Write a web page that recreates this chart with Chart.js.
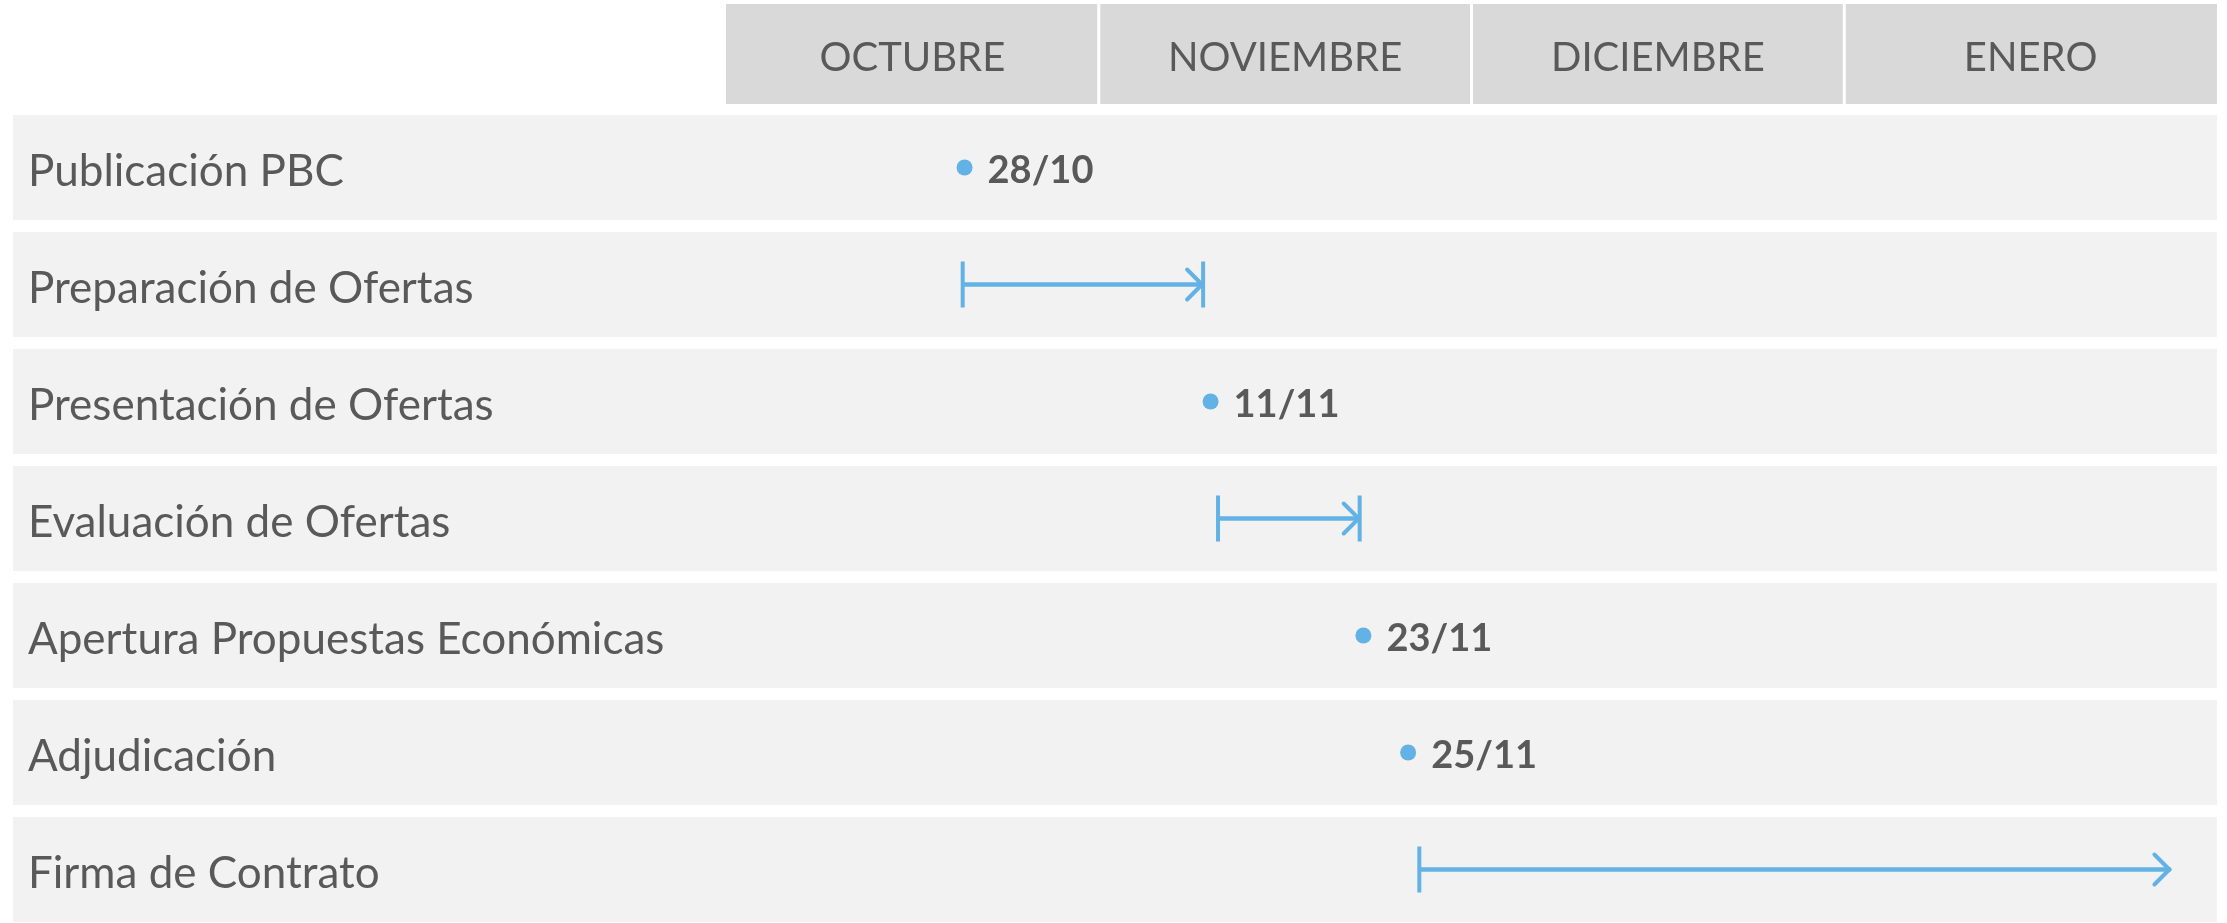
<!DOCTYPE html>
<html>
<head>
<meta charset="utf-8">
<title>Calendario de la licitación</title>
<script src="https://cdn.jsdelivr.net/npm/chart.js@4.4.0/dist/chart.umd.min.js"></script>
<style>
    html, body { margin: 0; padding: 0; background: #ffffff; overflow: hidden; }
    #grafico { display: block; }
</style>
</head>
<body>
<canvas id="grafico" width="2227" height="928"></canvas>
<script>
// MESES DE LA CABECERA (EJE X EN MESES: 0 = INICIO DE OCTUBRE)
var meses = ['OCTUBRE', 'NOVIEMBRE', 'DICIEMBRE', 'ENERO'];

// FASES (UNA FILA CADA UNA)
var fases = ['Publicación PBC', 'Preparación de Ofertas', 'Presentación de Ofertas',
             'Evaluación de Ofertas', 'Apertura Propuestas Económicas', 'Adjudicación',
             'Firma de Contrato'];

// HITOS PUNTUALES
var hitosFase = ['Publicación PBC', 'Presentación de Ofertas', 'Apertura Propuestas Económicas', 'Adjudicación'];
var hitosPosicion = [0.64, 1.30, 1.71, 1.83];
var hitosFecha = ['28/10', '11/11', '23/11', '25/11'];

// PERIODOS (INICIO Y FIN EN MESES)
var periodosFase = ['Preparación de Ofertas', 'Evaluación de Ofertas', 'Firma de Contrato'];
var periodosInicio = [0.635, 1.32, 1.86];
var periodosFin = [1.28, 1.70, 3.875];
var periodosAbiertos = [false, false, true];

var azul = '#63b2e5';
var gris = '#595959';

function datosHitos() {
    var puntos = [];
    for (var i = 0; i < hitosFase.length; i++) {
        puntos.push({ x: hitosPosicion[i], y: hitosFase[i] });
    }
    return puntos;
}

function datosPeriodos() {
    var barras = [];
    for (var i = 0; i < fases.length; i++) {
        var k = periodosFase.indexOf(fases[i]);
        barras.push(k < 0 ? null : [periodosInicio[k], periodosFin[k]]);
    }
    return barras;
}

// FONDO DE FILAS Y CABECERA DE MESES
var fondo = {
    id: 'fondo',
    beforeDraw: function (chart) {
        var ctx = chart.ctx;
        var ejeX = chart.scales.x;
        var ejeY = chart.scales.y;
        var area = chart.chartArea;
        var paso = ejeY.getPixelForValue(1) - ejeY.getPixelForValue(0);
        var alto = paso - 12;

        ctx.save();
        ctx.fillStyle = '#f2f2f2';
        for (var i = 0; i < fases.length; i++) {
            var yc = ejeY.getPixelForValue(i);
            ctx.fillRect(13, yc - alto / 2, area.right - 13, alto);
        }

        for (var m = 0; m < meses.length; m++) {
            var x0 = ejeX.getPixelForValue(m);
            var x1 = ejeX.getPixelForValue(m + 1);
            var izq = m > 0 ? 1.5 : 0;
            var der = m < meses.length - 1 ? 1.5 : 0;
            ctx.fillStyle = '#d9d9d9';
            ctx.fillRect(x0 + izq, 4, x1 - x0 - izq - der, 100);
            ctx.fillStyle = gris;
            ctx.font = '40px Lato';
            ctx.textAlign = 'center';
            ctx.textBaseline = 'middle';
            ctx.fillText(meses[m], (x0 + x1) / 2, 58);
        }
        ctx.restore();
    }
};

// TOPES, PUNTAS DE FLECHA Y FECHAS DE LOS HITOS
var marcas = {
    id: 'marcas',
    afterDatasetsDraw: function (chart) {
        var ctx = chart.ctx;
        var barras = chart.getDatasetMeta(0).data;
        var puntos = chart.getDatasetMeta(1).data;
        var valores = chart.data.datasets[0].data;

        ctx.save();
        ctx.strokeStyle = azul;
        ctx.lineWidth = 4;
        for (var i = 0; i < barras.length; i++) {
            if (valores[i] === null) continue;
            var k = periodosFase.indexOf(fases[i]);
            var b = barras[i];
            ctx.lineCap = 'butt';
            ctx.beginPath();
            ctx.moveTo(b.base, b.y - 23);
            ctx.lineTo(b.base, b.y + 23);
            if (!periodosAbiertos[k]) {
                ctx.moveTo(b.x, b.y - 23);
                ctx.lineTo(b.x, b.y + 23);
            }
            ctx.stroke();
            ctx.lineCap = 'round';
            ctx.beginPath();
            ctx.moveTo(b.x - 16, b.y - 15);
            ctx.lineTo(b.x - 1, b.y);
            ctx.lineTo(b.x - 16, b.y + 15);
            ctx.stroke();
        }

        ctx.fillStyle = gris;
        ctx.font = 'bold 38px Lato';
        ctx.textAlign = 'left';
        ctx.textBaseline = 'middle';
        for (var j = 0; j < puntos.length; j++) {
            ctx.fillText(hitosFecha[j], puntos[j].x + 23, puntos[j].y + 3);
        }
        ctx.restore();
    }
};

function dibujar() {
    var html = document.getElementById('grafico');

    var valores = {
        labels: fases,
        datasets: [{
            type: 'bar',
            label: 'Periodos',
            data: datosPeriodos(),
            indexAxis: 'y',
            backgroundColor: azul,
            borderWidth: 0,
            barThickness: 4
        }, {
            type: 'scatter',
            label: 'Hitos',
            data: datosHitos(),
            pointRadius: 8,
            pointBackgroundColor: azul,
            pointBorderWidth: 0
        }]
    };

    var opciones = {
        responsive: false,
        animation: false,
        devicePixelRatio: 1,
        indexAxis: 'y',
        layout: {
            autoPadding: false,
            padding: { left: 28, right: 10, top: 109, bottom: 0 }
        },
        plugins: {
            legend: { display: false },
            tooltip: { enabled: false }
        },
        scales: {
            x: {
                type: 'linear',
                min: 0,
                max: meses.length,
                display: false
            },
            y: {
                type: 'category',
                offset: true,
                grid: { display: false },
                border: { display: false },
                ticks: {
                    crossAlign: 'far',
                    padding: 0,
                    labelOffset: 4,
                    autoSkip: false,
                    color: gris,
                    font: { family: 'Lato', size: 44 }
                },
                afterFit: function (escala) {
                    escala.width = 698;
                    escala.paddingTop = 0;
                    escala.paddingBottom = 0;
                }
            }
        }
    };

    new Chart(html, {
        type: 'bar',
        data: valores,
        options: opciones,
        plugins: [fondo, marcas]
    });
}

Promise.all([
    document.fonts.load('44px Lato'),
    document.fonts.load('bold 38px Lato')
]).then(dibujar, dibujar);
</script>
</body>
</html>
